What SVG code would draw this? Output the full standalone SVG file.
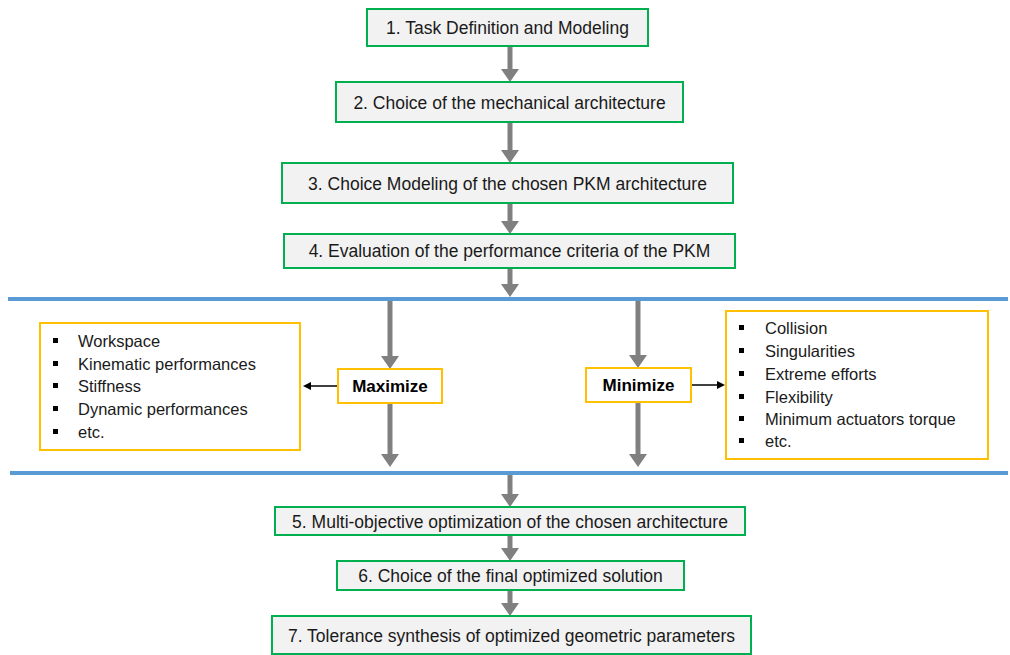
<svg xmlns="http://www.w3.org/2000/svg" width="1010" height="655" viewBox="0 0 1010 655">
<style>
.box{fill:#f2f2f2;stroke:#00b050;stroke-width:2}
.obox{fill:#ffffff;stroke:#ffc000;stroke-width:2}
.t{font-family:"Liberation Sans",Arial,sans-serif;font-size:17.5px;fill:#1a1a1a;text-anchor:middle}
.b{font-family:"Liberation Sans",Arial,sans-serif;font-size:16.5px;fill:#1a1a1a}
.bold{font-family:"Liberation Sans",Arial,sans-serif;font-size:17px;font-weight:bold;fill:#000;text-anchor:middle}
.g{stroke:#808080;stroke-width:5;fill:none}
.k{stroke:#000;stroke-width:1.5;fill:none}
.sep{stroke:#5b9bd5;stroke-width:4}
.sq{fill:#000}
</style>
<defs>
<marker id="ga" viewBox="0 0 13 18" refX="0" refY="9" markerWidth="13" markerHeight="18" markerUnits="userSpaceOnUse" orient="auto"><path d="M0,0 L13,9 L0,18 z" fill="#808080"/></marker>
<marker id="ka" viewBox="0 0 8 8" refX="0" refY="4" markerWidth="8" markerHeight="8" markerUnits="userSpaceOnUse" orient="auto"><path d="M0,0 L8,4 L0,8 z" fill="#000"/></marker>
</defs>
<g id="separators">
<line class="sep" x1="8" y1="299" x2="1008" y2="299"/>
<line class="sep" x1="10" y1="473" x2="1008" y2="473"/>
</g>
<g id="connectors">
<line class="g" x1="510" y1="46" x2="510" y2="69" marker-end="url(#ga)"/>
<line class="g" x1="510" y1="122" x2="510" y2="150" marker-end="url(#ga)"/>
<line class="g" x1="510" y1="203" x2="510" y2="221" marker-end="url(#ga)"/>
<line class="g" x1="510" y1="268" x2="510" y2="284" marker-end="url(#ga)"/>
<line class="g" x1="390" y1="301" x2="390" y2="356" marker-end="url(#ga)"/>
<line class="g" x1="390" y1="403" x2="390" y2="454" marker-end="url(#ga)"/>
<line class="g" x1="638" y1="301" x2="638" y2="355" marker-end="url(#ga)"/>
<line class="g" x1="638" y1="402" x2="638" y2="454" marker-end="url(#ga)"/>
<line class="g" x1="510" y1="475" x2="510" y2="494" marker-end="url(#ga)"/>
<line class="g" x1="510" y1="535" x2="510" y2="548" marker-end="url(#ga)"/>
<line class="g" x1="510" y1="590" x2="510" y2="603" marker-end="url(#ga)"/>
<line class="k" x1="338" y1="386" x2="311" y2="386" marker-end="url(#ka)"/>
<line class="k" x1="691" y1="385" x2="717" y2="385" marker-end="url(#ka)"/>
</g>
<g id="n1"><rect class="box" x="367" y="9" width="281" height="37"/><text class="t" x="507.5" y="34">1. Task Definition and Modeling</text></g>
<g id="n2"><rect class="box" x="336" y="82" width="347" height="40"/><text class="t" x="509.5" y="109">2. Choice of the mechanical architecture</text></g>
<g id="n3"><rect class="box" x="282" y="163" width="451" height="40"/><text class="t" x="507.5" y="190">3. Choice Modeling of the chosen PKM architecture</text></g>
<g id="n4"><rect class="box" x="284" y="234" width="451" height="34"/><text class="t" x="509.5" y="257">4. Evaluation of the performance criteria of the PKM</text></g>
<g id="maxlist"><rect class="obox" x="40" y="323" width="260" height="127"/>
<rect class="sq" x="53" y="338" width="5" height="5"/><text class="b" x="78" y="347">Workspace</text>
<rect class="sq" x="53" y="361" width="5" height="5"/><text class="b" x="78" y="370">Kinematic performances</text>
<rect class="sq" x="53" y="383" width="5" height="5"/><text class="b" x="78" y="392">Stiffness</text>
<rect class="sq" x="53" y="406" width="5" height="5"/><text class="b" x="78" y="415">Dynamic performances</text>
<rect class="sq" x="53" y="429" width="5" height="5"/><text class="b" x="78" y="438">etc.</text>
</g>
<g id="maximize"><rect class="obox" x="338" y="369" width="104" height="34"/><text class="bold" x="390" y="392">Maximize</text></g>
<g id="minimize"><rect class="obox" x="586" y="368" width="105" height="34"/><text class="bold" x="638.5" y="391">Minimize</text></g>
<g id="minlist"><rect class="obox" x="726" y="311" width="262" height="148"/>
<rect class="sq" x="739" y="325" width="5" height="5"/><text class="b" x="765" y="334">Collision</text>
<rect class="sq" x="739" y="348" width="5" height="5"/><text class="b" x="765" y="357">Singularities</text>
<rect class="sq" x="739" y="371" width="5" height="5"/><text class="b" x="765" y="380">Extreme efforts</text>
<rect class="sq" x="739" y="394" width="5" height="5"/><text class="b" x="765" y="403">Flexibility</text>
<rect class="sq" x="739" y="416" width="5" height="5"/><text class="b" x="765" y="425">Minimum actuators torque</text>
<rect class="sq" x="739" y="438" width="5" height="5"/><text class="b" x="765" y="447">etc.</text>
</g>
<g id="n5"><rect class="box" x="275" y="507" width="470" height="28"/><text class="t" x="510" y="528">5. Multi-objective optimization of the chosen architecture</text></g>
<g id="n6"><rect class="box" x="337" y="561" width="347" height="29"/><text class="t" x="510.5" y="582">6. Choice of the final optimized solution</text></g>
<g id="n7"><rect class="box" x="272" y="616" width="479" height="38"/><text class="t" x="511.5" y="642">7. Tolerance synthesis of optimized geometric parameters</text></g>
</svg>
